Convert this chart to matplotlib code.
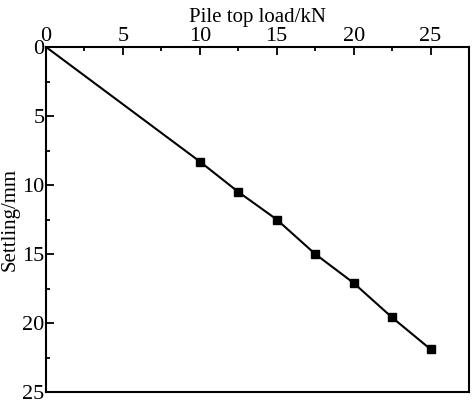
import numpy as np
import matplotlib.pyplot as plt
from matplotlib.ticker import MultipleLocator

load = [0, 10, 12.5, 15, 17.5, 20, 22.5, 25]
settling = [0, 8.3, 10.5, 12.5, 15.0, 17.1, 19.6, 21.9]

plt.rcParams["font.family"] = ["Liberation Serif", "DejaVu Serif"]
plt.rcParams["font.size"] = 15

fig = plt.figure(figsize=(4.74, 4.05), dpi=100)
ax = fig.add_axes([46 / 474, 1 - 392 / 405, (469 - 46) / 474, (392 - 47) / 405])

ax.plot(load, settling, color="black", lw=1.5)
ax.plot(load[1:], settling[1:], "s", color="black", ms=6)

ax.set_xlim(0, 27.5)
ax.set_ylim(25, 0)
ax.xaxis.tick_top()
ax.xaxis.set_label_position("top")
ax.xaxis.set_major_locator(MultipleLocator(5))
ax.xaxis.set_minor_locator(MultipleLocator(2.5))
ax.yaxis.set_major_locator(MultipleLocator(5))
ax.yaxis.set_minor_locator(MultipleLocator(2.5))
ax.tick_params(which="both", direction="in", width=1.3, labelsize=16)
ax.tick_params(which="major", length=6, pad=1)
ax.tick_params(which="minor", length=3)
for s in ax.spines.values():
    s.set_linewidth(1.5)

ax.set_xlabel("Pile top load/kN", labelpad=3)
ax.set_ylabel("Settling/mm", labelpad=2)

fig.savefig("out.png", dpi=100)
